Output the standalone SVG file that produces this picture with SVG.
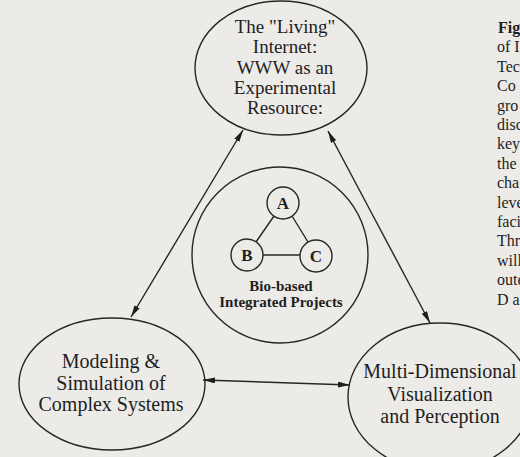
<svg xmlns="http://www.w3.org/2000/svg" width="520" height="457" viewBox="0 0 520 457">
<defs>
<marker id="ah" viewBox="0 0 12 6" refX="12" refY="3" markerWidth="12" markerHeight="6" markerUnits="userSpaceOnUse" orient="auto-start-reverse">
<path d="M0,0 L12,3 L0,6 Z" fill="#1e1e1e"/>
</marker>
<style>
.bg{fill:#ecebe8}
.node{fill:none;stroke:#262626;stroke-width:1.4}
.conn{fill:none;stroke:#262626;stroke-width:1.4}
.t{font-family:"Liberation Serif","Times New Roman",serif;fill:#1e1e1e;text-anchor:middle}
.big{font-size:19px}
.bold{font-weight:bold}
.cap{font-family:"Liberation Serif","Times New Roman",serif;font-size:16px;fill:#1e1e1e}
</style>
</defs>
<rect class="bg" x="0" y="0" width="520" height="457"/>

<g id="connectors">
<line class="conn" x1="243" y1="130" x2="131" y2="317" marker-start="url(#ah)" marker-end="url(#ah)"/>
<line class="conn" x1="328" y1="131" x2="430" y2="323" marker-start="url(#ah)" marker-end="url(#ah)"/>
<line class="conn" x1="203" y1="380" x2="350" y2="385" marker-start="url(#ah)" marker-end="url(#ah)"/>
</g>

<g id="node-internet">
<ellipse class="node" cx="281" cy="68" rx="86" ry="67"/>
<text class="t big" x="285" y="33">The "Living"</text>
<text class="t big" x="285" y="53">Internet:</text>
<text class="t big" x="285" y="74">WWW as an</text>
<text class="t big" x="285" y="94">Experimental</text>
<text class="t big" x="285" y="114">Resource:</text>
</g>

<g id="node-bio">
<circle class="node" cx="280" cy="255" r="88"/>
<g id="inner-links">
<line class="conn" x1="274" y1="216" x2="256" y2="242"/>
<line class="conn" x1="292" y1="216" x2="308" y2="242"/>
<line class="conn" x1="263" y1="255" x2="300" y2="255"/>
</g>
<g id="node-a">
<circle class="node" cx="283" cy="203" r="16"/>
<text class="t bold" x="283" y="209" font-size="17">A</text>
</g>
<g id="node-b">
<circle class="node" cx="247" cy="255" r="16"/>
<text class="t bold" x="247" y="261" font-size="17">B</text>
</g>
<g id="node-c">
<circle class="node" cx="316" cy="256" r="16"/>
<text class="t bold" x="316" y="262" font-size="17">C</text>
</g>
<text class="t bold" x="281" y="291" font-size="15">Bio-based</text>
<text class="t bold" x="281" y="307" font-size="15">Integrated Projects</text>
</g>

<g id="node-modeling">
<ellipse class="node" cx="112" cy="384" rx="93" ry="66"/>
<text class="t" x="111" y="368" font-size="20">Modeling &amp;</text>
<text class="t" x="111" y="390" font-size="20">Simulation of</text>
<text class="t" x="111" y="411" font-size="20">Complex Systems</text>
</g>

<g id="node-visualization">
<ellipse class="node" cx="440" cy="397" rx="92" ry="74"/>
<text class="t" x="440" y="378" font-size="20">Multi-Dimensional</text>
<text class="t" x="440" y="401" font-size="20">Visualization</text>
<text class="t" x="440" y="423" font-size="20">and Perception</text>
</g>

<g id="caption">
<text class="cap bold" x="498" y="33">Fig</text>
<text class="cap" x="497" y="52">of I</text>
<text class="cap" x="497" y="72">Tec</text>
<text class="cap" x="497" y="91">Co</text>
<text class="cap" x="497" y="111">gro</text>
<text class="cap" x="497" y="130">disc</text>
<text class="cap" x="497" y="149">key</text>
<text class="cap" x="497" y="169">the</text>
<text class="cap" x="497" y="188">cha</text>
<text class="cap" x="497" y="208">leve</text>
<text class="cap" x="497" y="227">faci</text>
<text class="cap" x="497" y="246">Thr</text>
<text class="cap" x="497" y="266">will</text>
<text class="cap" x="497" y="285">oute</text>
<text class="cap" x="497" y="305">D an</text>
</g>
</svg>
